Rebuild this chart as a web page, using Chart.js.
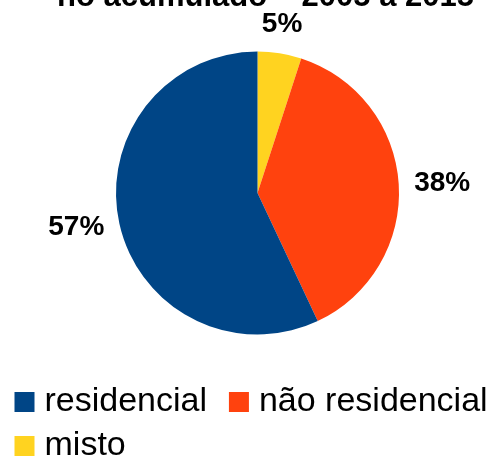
<!DOCTYPE html>
<html>
<head>
<meta charset="utf-8">
<script src="https://cdn.jsdelivr.net/npm/chart.js@4.4.1/dist/chart.umd.min.js"></script>
<style>
  html, body { margin: 0; padding: 0; background: #fff; }
  #frame { position: relative; width: 493px; height: 461px; overflow: hidden; }
  #holder { position: absolute; left: 0; top: -18px; width: 493px; height: 491px; }
</style>
</head>
<body>
<div id="frame"><div id="holder"><canvas id="graficoAreas"></canvas></div></div>
<script>
// Fatias na ordem horária a partir do topo
const categorias = ['misto', 'não residencial', 'residencial'];
const percentuais = [5, 38, 57];
const cores = ['#ffd320', '#ff420e', '#004586'];
const titulo = 'no acumulado – 2005 a 2015';

const FONTE = '"Liberation Sans", Arial, sans-serif';

// rótulos de percentual fora da pizza, na direção do meio de cada fatia
const rotulosExternos = {
  id: 'rotulosExternos',
  afterDatasetsDraw(chart) {
    const ctx = chart.ctx;
    const meta = chart.getDatasetMeta(0);
    const valores = chart.data.datasets[0].data;
    ctx.save();
    ctx.font = 'bold 28px ' + FONTE;
    ctx.fillStyle = '#000';
    meta.data.forEach((arc, i) => {
      const p = arc.getProps(['x', 'y', 'startAngle', 'endAngle', 'outerRadius'], true);
      const meio = (p.startAngle + p.endAngle) / 2;
      const dx = Math.cos(meio);
      const dy = Math.sin(meio);
      const r = p.outerRadius + 15.5;
      ctx.textAlign = dx > 0.5 ? 'left' : (dx < -0.5 ? 'right' : 'center');
      ctx.textBaseline = dy < -0.5 ? 'bottom' : (dy > 0.5 ? 'top' : 'middle');
      ctx.fillText(valores[i] + '%', p.x + dx * r, p.y + dy * r);
    });
    ctx.restore();
  }
};

// empurra a pizza e o título um pouco para a direita, a legenda fica onde está
const deslocamento = {
  id: 'deslocamento',
  afterLayout(chart) {
    const area = chart.chartArea;
    area.left += 10.5;
    area.top -= 2;
    area.width = area.right - area.left;
    area.height = area.bottom - area.top;
    chart.titleBlock.left += 8;
    chart.titleBlock.right += 8;
  }
};

new Chart(document.getElementById('graficoAreas'), {
  type: 'pie',
  data: {
    labels: categorias,
    datasets: [{
      data: percentuais,
      backgroundColor: cores,
      borderWidth: 0
    }]
  },
  options: {
    responsive: true,
    maintainAspectRatio: false,
    animation: false,
    radius: 141.5,
    layout: { padding: { left: 11.5, right: -10.5, top: 0, bottom: 0 } },
    plugins: {
      title: {
        display: true,
        text: titulo,
        color: '#000',
        padding: 0,
        font: { family: FONTE, size: 31, weight: 'bold', lineHeight: 1 }
      },
      legend: {
        position: 'bottom',
        align: 'start',
        reverse: true,
        labels: {
          usePointStyle: true,
          pointStyle: 'rect',
          boxWidth: 6,
          boxHeight: 20,
          padding: 10,
          color: '#000',
          font: { family: FONTE, size: 34 },
          generateLabels(chart) {
            const itens = Chart.overrides.doughnut.plugins.legend.labels.generateLabels(chart);
            // folga depois do primeiro item da linha
            itens[itens.length - 1].text += '  ';
            return itens;
          }
        }
      },
      tooltip: { enabled: false }
    }
  },
  plugins: [rotulosExternos, deslocamento]
});
</script>
</body>
</html>
